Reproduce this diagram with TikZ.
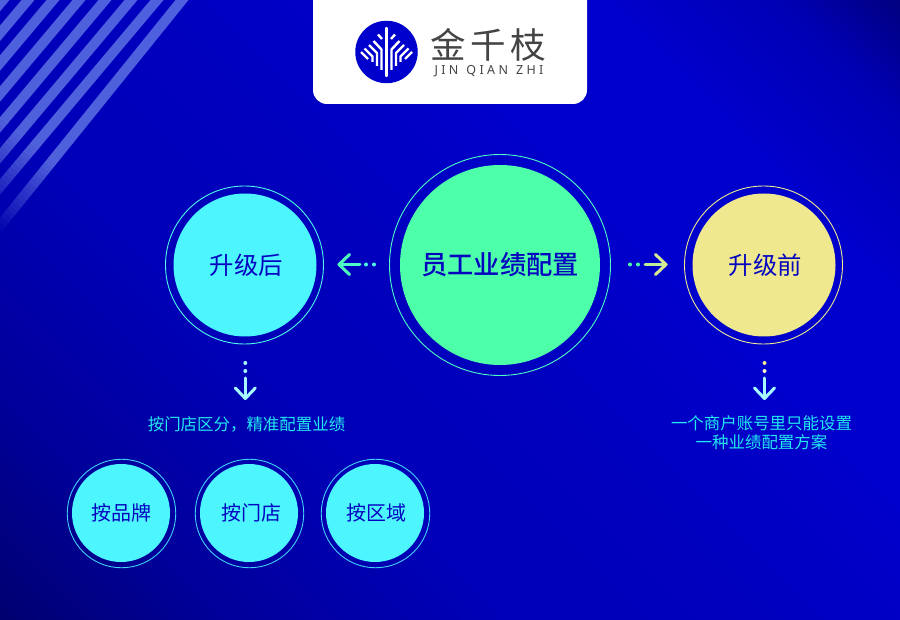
\documentclass[tikz,border=0pt]{standalone}
\usepackage{fontspec}
\newfontfamily\cjk{Noto Sans CJK SC}
\newfontfamily\cjkb{Noto Sans CJK SC Medium}
\newfontfamily\latinsp[LetterSpace=27]{Noto Sans}
\setmainfont{Noto Sans}
\usetikzlibrary{calc}
\definecolor{ink}{HTML}{0505C0}
\definecolor{logoblue}{HTML}{0000CC}
\definecolor{cyanfill}{HTML}{4DF5FF}
\definecolor{greenfill}{HTML}{4DFFA8}
\definecolor{yellowfill}{HTML}{F0E88F}
\definecolor{captioncol}{HTML}{22E8F0}
\definecolor{logotext}{HTML}{444444}
\definecolor{stripecol}{HTML}{9FC0FF}
\definecolor{bga}{HTML}{000070}
\definecolor{bgb}{HTML}{00009A}
\definecolor{bgc}{HTML}{0000B8}
\definecolor{bgd}{HTML}{0000BE}
\definecolor{bge}{HTML}{0000CC}
\definecolor{bgf}{HTML}{0000B4}
\definecolor{bgg}{HTML}{000080}
\pgfdeclareverticalshading{bgshade}{100bp}{
 color(0bp)=(bga);color(14.6bp)=(bga);color(25bp)=(bgb);color(38bp)=(bgc);color(50bp)=(bgd);color(62bp)=(bge);color(72bp)=(bge);color(80bp)=(bgf);color(85.4bp)=(bgg);color(100bp)=(bgg)}
\tikzset{
 x=1pt,y=-1pt,
 disc/.style={circle,inner sep=0pt,minimum size=#1},
 ringline/.style={draw=#1,line width=.9pt,fill=none},
 circlabel/.style={font=\cjk,text=ink},
 caption/.style={font=\cjk\fontsize{16.45}{18.5}\selectfont,text=captioncol,align=center},
 arrowline/.style={draw=#1,line width=3pt,line cap=round,line join=round},
 dotmark/.style={circle,fill=#1,inner sep=0pt,minimum size=4pt},
 logoline/.style={draw=white,line width=2.4pt,line cap=butt,line join=miter},
}
\begin{document}
\begin{tikzpicture}
\useasboundingbox (0,0) rectangle (900,620);
\shade[shading=bgshade,shading angle=-45] (0,0) rectangle (900,620);
\begin{scope}
 \clip (0,0) rectangle (900,620);
 \clip (-3.5,0)--(9.5,0)--(-50,70.8)--(-50,55.3)--cycle
  (21.5,0)--(34.5,0)--(-50,100.6)--(-50,85.1)--cycle
  (46.5,0)--(59.5,0)--(-50,130.3)--(-50,114.8)--cycle
  (72.5,0)--(85.5,0)--(-50,161.2)--(-50,145.8)--cycle
  (98.5,0)--(111.5,0)--(-50,192.2)--(-50,176.7)--cycle
  (124.5,0)--(137.5,0)--(-50,223.1)--(-50,207.7)--cycle
  (150.5,0)--(163.5,0)--(-50,254.1)--(-50,238.6)--cycle
  (175.5,0)--(188.5,0)--(-50,295.7)--(-50,279.6)--cycle;
 % stripes fade out along their own direction, in bands
 \fill[stripecol,opacity=.5]
   ({-.643*90+.766*300},{.766*90+.643*300})--({-.643*90-.766*300},{.766*90-.643*300})
   --({.643*300-.766*300},{-.766*300-.643*300})--({.643*300+.766*300},{-.766*300+.643*300})--cycle;
 \foreach \i in {0,...,17}{
  \pgfmathsetmacro{\sa}{90+5*\i}
  \pgfmathsetmacro{\sb}{95+5*\i}
  \pgfmathsetmacro{\op}{.5*(1-(\i+.5)/18)}
  \fill[stripecol,opacity=\op]
   ({-.643*\sa+.766*300},{.766*\sa+.643*300})--({-.643*\sa-.766*300},{.766*\sa-.643*300})
   --({-.643*\sb-.766*300},{.766*\sb-.643*300})--({-.643*\sb+.766*300},{.766*\sb+.643*300})--cycle;
 }
\end{scope}
% logo card
\fill[white,rounded corners=14pt] (313,-30) rectangle (587,104);
\node[disc=62.5pt,fill=logoblue] (logomark) at (386.5,52) {};
\foreach \s in {-1,1}{
 \draw[logoline] (386.5+\s*4.5,39)--(386.5+\s*8.5,34.5);
 \draw[logoline] (386.5+\s*13,41)--(386.5+\s*5,49.5)--(386.5+\s*5,70);
 \draw[logoline] (386.5+\s*17.5,45)--(386.5+\s*9.5,53)--(386.5+\s*9.5,66);
 \draw[logoline] (386.5+\s*22,48.5)--(386.5+\s*14,56.5)--(386.5+\s*14,62);
 \draw[logoline] (386.5+\s*25.5,52)--(386.5+\s*18.5,59);
}
\draw[logoline,line cap=round] (386.5,28)--(386.5,76);
\node[font=\cjk\fontsize{35.5}{35.5}\selectfont,text=logotext,anchor=center] (logocn) at (488.5,45) {金\hspace{4.5pt}千\hspace{4.5pt}枝};
\node[font=\latinsp\fontsize{12.5}{14}\selectfont,text=logotext] (logoen) at (489,71) {JIN\hspace{8pt}QIAN\hspace{8pt}ZHI};
% main circles
\node[disc=200pt,fill=greenfill,circlabel,font=\cjkb\fontsize{26.3}{30}\selectfont] (main) at (500,265) {员工业绩配置};
\node[disc=221pt,ringline=greenfill!70!cyanfill] (mainring) at (500,265) {};
\node[disc=143pt,fill=cyanfill,circlabel,font=\cjk\fontsize{24.4}{26}\selectfont] (after) at (245,265) {\hspace*{3pt}升级后};
\node[disc=158pt,ringline=cyanfill!70!greenfill] (afterring) at (244.5,265) {};
\node[disc=143pt,fill=yellowfill,circlabel,font=\cjk\fontsize{24.4}{26}\selectfont] (before) at (764,265) {\hspace*{3pt}升级前};
\node[disc=158pt,ringline=yellowfill] (beforering) at (763.5,265) {};
% small circles
\foreach \n/\x/\t in {brand/121/\hspace*{1pt}按品牌,store/249/\hspace*{4pt}按门店,area/375/\hspace*{2pt}按区域}{
 \node[disc=98pt,fill=cyanfill,circlabel,font=\cjk\fontsize{20}{22}\selectfont] (\n) at (\x,513) {\t};
}
\foreach \n/\x in {brand/121.5,store/249.5,area/375.5}{
 \node[disc=108.5pt,ringline=cyanfill!85!logoblue] (\n ring) at (\x,513.5) {};
}
% captions
\node[caption] (captionleft) at (246.5,424) {按门店区分，精准配置业绩};
\node[caption] (captionright) at (761.5,432.5) {一个商户账号里只能设置\\一种业绩配置方案};
% arrows
\coordinate (la0) at (360,264.5); \coordinate (la1) at (339,264.5);
\draw[arrowline=greenfill!60!cyanfill] (la0)--(la1);
\draw[arrowline=greenfill!80!cyanfill] ($(la1)+(10.5,-10)$)--(la1)--($(la1)+(10.5,10)$);
\node[dotmark=cyanfill!70!greenfill] (ld1) at (366,264.5) {};
\node[dotmark=cyanfill!70!greenfill] (ld2) at (374,264.5) {};
\coordinate (ra0) at (645,264.5); \coordinate (ra1) at (666,264.5);
\draw[arrowline=yellowfill!70!greenfill] (ra0)--(ra1);
\draw[arrowline=yellowfill!85!greenfill] ($(ra1)+(-10.5,-10)$)--(ra1)--($(ra1)+(-10.5,10)$);
\node[dotmark=greenfill] (rd1) at (630,264.5) {};
\node[dotmark=greenfill] (rd2) at (638,264.5) {};
\coordinate (da0) at (245.3,378); \coordinate (da1) at (245.3,398.5);
\draw[arrowline=cyanfill!50!white] (da0)--(da1);
\draw[arrowline=cyanfill!50!white] ($(da1)+(-10,-10.5)$)--(da1)--($(da1)+(10,-10.5)$);
\node[dotmark=cyanfill!50!white] (dd1) at (245.3,363) {};
\node[dotmark=cyanfill!50!white] (dd2) at (245.3,371) {};
\coordinate (ea0) at (764.5,378); \coordinate (ea1) at (764.5,398.5);
\draw[arrowline=cyanfill!50!white] (ea0)--(ea1);
\draw[arrowline=cyanfill!50!white] ($(ea1)+(-10,-10.5)$)--(ea1)--($(ea1)+(10,-10.5)$);
\node[dotmark=yellowfill] (ed1) at (764.5,363) {};
\node[dotmark=yellowfill!50!white] (ed2) at (764.5,371) {};
\end{tikzpicture}
\end{document}
